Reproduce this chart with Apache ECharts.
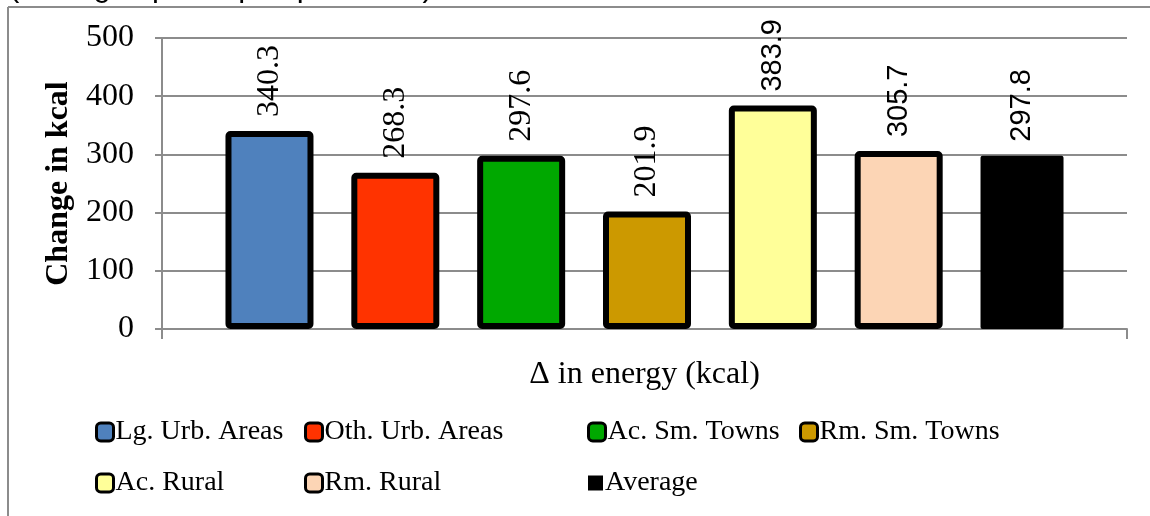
<!DOCTYPE html>
<html>
<head>
<meta charset="utf-8">
<script src="https://cdn.jsdelivr.net/npm/echarts@6/dist/echarts.min.js"></script>
<style>
	html, body { margin: 0; padding: 0; background: #fff; }
	#energy { width: 1150px; height: 516px; }
</style>
</head>
<body>
<div id="energy"></div>
<script>
/**
 * 数据
 * **/
var categories = ['Δ in energy (kcal)'];
var groups = ['Lg. Urb. Areas', 'Oth. Urb. Areas', 'Ac. Sm. Towns', 'Rm. Sm. Towns', 'Ac. Rural', 'Rm. Rural', 'Average'];
var values = [340.3, 268.3, 297.6, 201.9, 383.9, 305.7, 297.8];
var colors = ['#4f81bd', '#ff3300', '#00a800', '#cc9900', '#ffff99', '#fcd5b5', '#000000'];
var yTicks = [0, 100, 200, 300, 400, 500];

var serif = 'Liberation Serif';
var sans = 'Liberation Sans';

// 标签字体：前四个衬线，后三个无衬线
var labelFonts = [serif, serif, serif, serif, sans, sans, sans];

// legend item positions (two rows, column aligned)
var legendPos = [
	[95, 418], [304, 418], [587, 418], [799, 418],
	[95, 469], [304, 469], [588, 469]
];

var myChart = echarts.init(document.getElementById('energy'));

var series = [];
var legends = [];
for (var i = 0; i < groups.length; i++) {
	var isAvg = groups[i] === 'Average';
	series.push({
		name: groups[i],
		type: 'bar',
		barWidth: isAvg ? 83 : 88,
		barGap: '43%',
		itemStyle: {
			color: colors[i],
			borderColor: '#000',
			borderWidth: isAvg ? 0 : 6,
			borderRadius: 2
		},
		label: {
			show: true,
			position: 'top',
			rotate: 90,
			align: 'left',
			verticalAlign: 'middle',
			distance: 14,
			color: '#000',
			fontFamily: labelFonts[i],
			fontSize: labelFonts[i] === serif ? 32 : 29,
			formatter: function(p) {
				return p.value.toFixed(1);
			}
		},
		data: [values[i]]
	});
	legends.push({
		left: legendPos[i][0],
		top: legendPos[i][1],
		padding: 0,
		data: [groups[i]],
		icon: isAvg ? 'rect' : 'roundRect',
		itemWidth: isAvg ? 15 : 17,
		itemHeight: isAvg ? 15 : 18,
		itemStyle: {
			borderColor: '#000',
			borderWidth: isAvg ? 0 : 3
		},
		textStyle: {
			color: '#000',
			fontFamily: serif,
			fontSize: 28,
			padding: [0, 0, 0, -3]
		},
		selectedMode: false
	});
}

var option = {
	animation: false,
	backgroundColor: '#fff',
	grid: {
		left: 162,
		right: 23,
		top: 38,
		bottom: 187,
		containLabel: false
	},
	graphic: [{
		type: 'line',
		shape: { x1: 8, y1: 7, x2: 1150, y2: 7 },
		style: { stroke: '#8c8c8c', lineWidth: 2 }
	}, {
		type: 'line',
		shape: { x1: 8, y1: 7, x2: 8, y2: 516 },
		style: { stroke: '#8c8c8c', lineWidth: 2 }
	}, {
		type: 'text',
		left: 9,
		top: -28,
		style: {
			text: '(Changes per capita per week)',
			font: '31px "Liberation Sans"',
			fill: '#000'
		}
	}],
	legend: legends,
	xAxis: {
		type: 'category',
		data: categories,
		name: categories[0],
		nameLocation: 'middle',
		nameGap: 30,
		nameTextStyle: {
			color: '#000',
			fontFamily: serif,
			fontSize: 32
		},
		axisLine: {
			lineStyle: { color: '#8c8c8c', width: 2 }
		},
		axisTick: {
			show: true,
			length: 10,
			lineStyle: { color: '#8c8c8c', width: 2 }
		},
		axisLabel: { show: false }
	},
	yAxis: {
		type: 'value',
		min: yTicks[0],
		max: yTicks[yTicks.length - 1],
		interval: 100,
		name: 'Change in kcal',
		nameLocation: 'middle',
		nameGap: 72,
		nameTextStyle: {
			color: '#000',
			fontFamily: serif,
			fontWeight: 'bold',
			fontSize: 32
		},
		axisLine: {
			show: true,
			lineStyle: { color: '#8c8c8c', width: 2 }
		},
		axisTick: {
			show: true,
			length: 7,
			lineStyle: { color: '#8c8c8c', width: 2 }
		},
		axisLabel: {
			color: '#000',
			fontFamily: serif,
			fontSize: 32,
			margin: 28
		},
		splitLine: {
			lineStyle: { color: '#8c8c8c', width: 2 }
		}
	},
	series: series
};
myChart.setOption(option);
</script>
</body>
</html>
